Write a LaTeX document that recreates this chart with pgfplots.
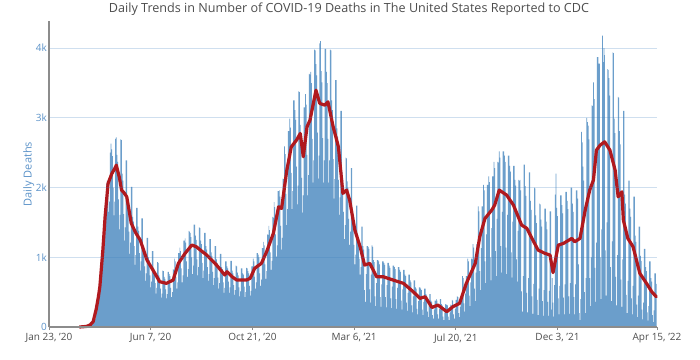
\documentclass[border=0pt]{standalone}
\usepackage{fontspec}
\setmainfont{Open Sans}
\usepackage{pgfplots}
\usepackage{pgfplotstable}
\pgfplotsset{compat=1.18}
\definecolor{barblue}{HTML}{6B9ECB}
\definecolor{linered}{HTML}{B0191E}
\definecolor{tickblue}{HTML}{5B92C8}
\definecolor{gridblue}{HTML}{3F7FBF}
\definecolor{axisgrey}{HTML}{8C8C8C}
\definecolor{textgrey}{HTML}{4D4D4D}
\pgfplotstableread[row sep=\\]{
v\\
0\\0\\0\\0\\0\\0\\0\\
0\\0\\0\\0\\0\\0\\0\\
0\\0\\0\\0\\0\\0\\0\\
0\\0\\0\\0\\0\\0\\0\\
0\\0\\0\\0\\0\\0\\0\\
0\\0\\0\\0\\0\\0\\0\\
0\\1\\2\\2\\3\\4\\6\\
10\\12\\15\\18\\22\\28\\35\\
45\\50\\55\\70\\85\\110\\120\\
200\\260\\300\\380\\520\\680\\810\\
950\\1050\\1000\\1100\\1300\\1650\\1700\\
2050\\2100\\1900\\1650\\1800\\2500\\2630\\
2550\\2450\\2000\\1600\\1800\\2700\\2720\\
2470\\2370\\1830\\1400\\1610\\2690\\2680\\
2200\\2100\\1620\\1240\\1430\\2390\\2390\\
1850\\1770\\1370\\1050\\1210\\2010\\2010\\
1580\\1510\\1160\\890\\1030\\1710\\1710\\
1440\\1380\\1060\\810\\940\\1560\\1560\\
1170\\1120\\870\\660\\770\\1280\\1280\\
1000\\960\\740\\570\\650\\1090\\1090\\
850\\810\\630\\480\\560\\930\\920\\
740\\710\\550\\420\\480\\810\\800\\
720\\690\\540\\410\\470\\790\\790\\
760\\730\\560\\430\\500\\830\\820\\
980\\940\\720\\550\\640\\1060\\1060\\
1140\\1090\\840\\640\\740\\1240\\1240\\
1270\\1210\\940\\720\\830\\1380\\1370\\
1350\\1290\\1000\\760\\880\\1470\\1470\\
1310\\1250\\970\\740\\860\\1430\\1420\\
1240\\1190\\920\\700\\810\\1350\\1350\\
1160\\1110\\860\\660\\760\\1260\\1260\\
1070\\1020\\790\\600\\700\\1160\\1160\\
970\\920\\710\\550\\630\\1050\\1050\\
860\\830\\640\\490\\560\\940\\940\\
870\\840\\650\\490\\570\\950\\950\\
810\\770\\600\\460\\530\\880\\870\\
780\\740\\570\\440\\510\\840\\840\\
770\\750\\580\\430\\500\\850\\840\\
800\\770\\590\\450\\520\\870\\870\\
980\\940\\720\\550\\640\\1060\\1060\\
1040\\1000\\770\\590\\680\\1130\\1130\\
1220\\1170\\900\\690\\800\\1330\\1320\\
1450\\1390\\1070\\820\\950\\1580\\1570\\
1790\\1720\\1330\\1010\\1170\\1950\\1950\\
1960\\1870\\1450\\1110\\1280\\2130\\2120\\
2590\\2480\\1910\\1460\\1690\\2810\\2810\\
2990\\2860\\2210\\1690\\1950\\3250\\3250\\
3110\\2970\\2300\\1760\\2030\\3380\\3370\\
2900\\2770\\2140\\1640\\1890\\3150\\3150\\
3340\\3190\\2470\\1890\\2180\\3630\\3620\\
3660\\3500\\2700\\2070\\2390\\3980\\3970\\
3770\\3610\\2790\\2130\\2460\\4070\\4100\\
3670\\3510\\2710\\2070\\2390\\3990\\3990\\
3660\\3500\\2700\\2070\\2390\\3980\\3970\\
3250\\3110\\2410\\1840\\2120\\3540\\3540\\
2850\\2730\\2110\\1610\\1860\\3100\\3100\\
2230\\2130\\1650\\1260\\1460\\2430\\2420\\
2090\\2000\\1550\\1180\\1370\\2280\\2280\\
1600\\1530\\1180\\900\\1040\\1740\\1740\\
1320\\1270\\980\\750\\860\\1440\\1440\\
1160\\1110\\530\\360\\760\\1160\\1160\\
1150\\1120\\540\\350\\750\\1170\\1150\\
960\\930\\440\\300\\630\\960\\960\\
940\\900\\430\\290\\610\\940\\940\\
920\\890\\430\\280\\600\\920\\920\\
880\\850\\410\\270\\580\\880\\880\\
860\\830\\400\\260\\560\\860\\860\\
820\\790\\380\\250\\540\\820\\820\\
750\\730\\350\\230\\490\\750\\750\\
670\\640\\310\\210\\440\\670\\670\\
570\\550\\260\\180\\370\\570\\570\\
550\\530\\250\\170\\360\\550\\550\\
470\\450\\220\\140\\310\\470\\470\\
380\\360\\170\\120\\250\\380\\380\\
400\\380\\180\\120\\260\\400\\400\\
330\\310\\150\\100\\210\\330\\320\\
320\\310\\150\\100\\210\\320\\310\\
390\\380\\180\\120\\260\\390\\390\\
440\\430\\200\\140\\290\\440\\440\\
730\\700\\340\\220\\480\\730\\730\\
980\\940\\450\\300\\640\\980\\970\\
1190\\1140\\550\\370\\780\\1190\\1190\\
1730\\1660\\800\\530\\1130\\1730\\1730\\
2040\\1960\\940\\630\\1330\\2040\\2040\\
2160\\2080\\1000\\670\\1420\\2160\\2160\\
2370\\2280\\1090\\730\\1550\\2370\\2360\\
2520\\2430\\1160\\780\\1650\\2520\\2520\\
2460\\2370\\1140\\760\\1610\\2460\\2460\\
2310\\2230\\1070\\710\\1510\\2310\\2310\\
2110\\2030\\970\\650\\1380\\2110\\2100\\
2110\\1960\\510\\220\\730\\2330\\2330\\
2020\\1880\\490\\210\\700\\2220\\2220\\
1810\\1680\\440\\190\\620\\2000\\1990\\
1600\\1490\\390\\170\\550\\1770\\1760\\
1540\\1440\\370\\160\\530\\1700\\1700\\
1510\\1400\\360\\160\\520\\1660\\1660\\
250\\700\\350\\150\\600\\1900\\2200\\
1710\\1590\\410\\180\\590\\1890\\1890\\
1750\\1630\\420\\180\\610\\1940\\1940\\
1810\\1690\\440\\190\\630\\2000\\2000\\
1770\\1650\\430\\180\\610\\1960\\1960\\
1840\\900\\200\\100\\400\\2800\\2650\\
2300\\2100\\500\\200\\700\\3000\\2940\\
2890\\2690\\700\\300\\1000\\3180\\3170\\
3510\\3270\\850\\360\\1210\\3870\\3870\\
3780\\3780\\1000\\400\\1400\\4180\\3800\\
4000\\3900\\1100\\450\\1500\\3700\\3690\\
3570\\3320\\860\\370\\1230\\3940\\3930\\
2990\\2780\\720\\310\\1030\\3300\\3290\\
2810\\2620\\680\\290\\970\\3100\\3100\\
1900\\1770\\460\\200\\660\\2100\\2100\\
1700\\1580\\410\\180\\590\\1870\\1870\\
1310\\1220\\320\\140\\450\\1440\\1440\\
1020\\950\\250\\110\\350\\1120\\1120\\
860\\800\\210\\90\\300\\940\\940\\
700\\650\\170\\70\\240\\770\\770\\
620\\
}\bardata
\begin{document}
\begin{tikzpicture}
\begin{axis}[
  at={(0pt,0pt)}, anchor=south west,
  scale only axis, width=608pt, height=306pt,
  xmin=0, xmax=813, ymin=0, ymax=4390,
  axis lines*=left,
  axis on top,
  axis line style={axisgrey, line width=1.2pt},
  xtick={0,136,272,408,544,680,813},
  xticklabels={{Jan 23, '20},{Jun 7, '20},{Oct 21, '20},{Mar 6, '21},{Jul 20, '21},{Dec 3, '21},{Apr 15, '22}},
  ytick={0,1000,2000,3000,4000},
  yticklabels={0,1k,2k,3k,4k},
  ymajorgrids, grid style={gridblue, opacity=0.25, line width=0.9pt},
  tick align=outside, major tick length=3pt,
  tick style={axisgrey, line width=0.8pt},
  ytick style={draw=none},
  xticklabel style={textgrey, font=\fontsize{10}{12}\selectfont},
  yticklabel style={tickblue, font=\fontsize{10}{12}\selectfont, inner xsep=1pt, xshift=2pt},
  ylabel={Daily Deaths},
  ylabel shift=-3pt,
  ylabel style={tickblue, font=\fontsize{11}{13}\selectfont},
  /pgf/number format/assume math mode=true,
  clip=false,
]
\addplot[ybar, bar width=0.9, bar shift=0pt, fill=barblue, draw=none]
  table[x expr=\coordindex, y=v] {\bardata};
\addplot[linered, line width=3.2pt, line join=round, line cap=round] coordinates {
(41,0) (50,8) (55,30) (59,76) (63,250) (66,430) (68,578) (72,1100) (75,1581)
(79,2060) (84,2200) (88,2275) (90,2322) (94,2150) (97,1964) (100,1930) (104,1868)
(110,1487) (116,1350) (122,1247) (131,960) (139,817) (148,650) (157,626) (166,674)
(173,913) (182,1057) (191,1176) (197,1151) (204,1090) (211,1032) (224,889) (235,746)
(238,793) (245,720) (251,674) (264,674) (269,698) (275,842) (284,913) (291,1080)
(300,1343) (307,1725) (311,1701) (318,2251) (324,2585) (331,2681) (336,2777) (340,2442)
(345,2872) (349,2968) (357,3398) (362,3207) (369,3183) (373,3230) (380,2872) (387,2585)
(393,1917) (398,1964) (402,1821) (409,1391) (416,1151) (422,889) (429,913) (438,721)
(447,721) (460,674) (474,626) (487,506) (496,411) (503,434) (512,280) (520,315)
(532,219) (540,291) (549,340) (558,626) (570,913) (576,1295) (583,1558) (592,1677)
(596,1749) (602,1964) (612,1892) (621,1749) (632,1462) (639,1415) (647,1247) (654,1104)
(663,1057) (670,1032) (674,780) (681,1175) (688,1200) (699,1271) (703,1223) (710,1271)
(717,1677) (723,1964) (728,2108) (732,2538) (737,2609) (743,2657) (750,2538) (757,2251)
(761,1868) (766,1940) (768,1534) (774,1271) (781,1151) (790,770) (799,626) (806,506)
(812,434)
};
\end{axis}
\node[text=textgrey, font=\fontsize{12.6}{15}\selectfont] at (300pt,318pt)
  {Daily Trends in Number of COVID-19 Deaths in The United States Reported to CDC};
\pgfresetboundingbox
\path (-49pt,-32pt) rectangle (651pt,327pt);
\end{tikzpicture}
\end{document}
